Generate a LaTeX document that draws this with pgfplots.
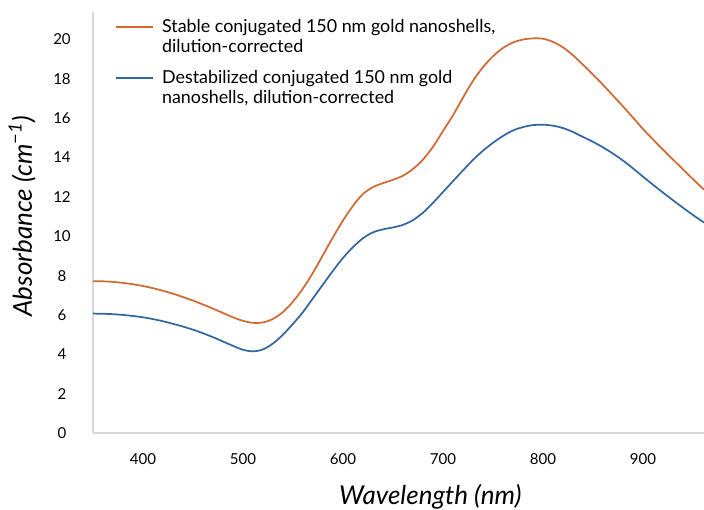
\documentclass[border=0pt]{standalone}
\usepackage{fontspec}
\setmainfont{Lato}
\usepackage{pgfplots}
\pgfplotsset{compat=1.18}
\usetikzlibrary{calc}
\definecolor{sorange}{RGB}{210,105,50}
\definecolor{dblue}{RGB}{52,102,160}
\definecolor{axgray}{RGB}{217,217,217}
\begin{document}
\begin{tikzpicture}
\begin{axis}[
  scale only axis,
  width=458.25pt, height=315.75pt,
  xmin=350, xmax=961, ymin=0, ymax=21.4,
  axis x line*=bottom, axis y line*=left,
  axis line style={axgray, line width=1.1pt, -},
  xtick={400,500,...,900}, ytick={0,2,...,20},
  major tick length=0pt,
  tick style={draw=none},
  /pgf/number format/assume math mode=true,
  /pgf/number format/1000 sep={},
  tick label style={font=\fontsize{11.3pt}{13pt}\selectfont, text=black},
  yticklabel style={anchor=center, xshift=-23.25pt},
  xticklabel style={anchor=center, yshift=-19.5pt},
  xlabel={\itshape Wavelength (nm)},
  ylabel={\itshape Absorbance (cm\textsuperscript{−1})},
  label style={font=\fontsize{19.5pt}{22pt}\selectfont},
  xlabel style={at={(axis description cs:0.552,0)}, anchor=center, yshift=-48pt},
  ylabel style={at={(axis description cs:-0.116,0.515)}, anchor=center},
  legend style={at={(axis description cs:0.036,0.979)}, anchor=north west,
    draw=none, fill=none, inner sep=0pt, row sep=3.2pt, column sep=6pt,
    font=\fontsize{13.4pt}{13.9pt}\selectfont,
    nodes={inner sep=0pt, align=left, text height=23.6pt, text depth=4.2pt}},
  legend cell align=left,
  legend image code/.code={\draw[#1, line width=1.4pt] (0pt,9.8pt) -- (27.75pt,9.8pt);
    \path (0pt,-20.65pt) (0pt,0pt);},
]
\addplot[sorange, line width=1.3pt, smooth] coordinates {
(350,7.72) (360,7.71) (370,7.68) (380,7.63) (390,7.56) (400,7.47) (410,7.36) (420,7.23)
(430,7.08) (440,6.91) (450,6.73) (460,6.53) (470,6.32) (480,6.10) (490,5.88) (500,5.70)
(510,5.60) (520,5.62) (530,5.80) (540,6.15) (550,6.68) (560,7.35) (570,8.15) (580,9.05)
(590,9.95) (600,10.80) (610,11.55) (620,12.15) (630,12.50) (640,12.70) (650,12.87)
(660,13.08) (670,13.42) (680,13.90) (690,14.55) (700,15.35) (710,16.15) (720,17.05)
(730,17.90) (740,18.60) (750,19.15) (760,19.57) (770,19.85) (780,20.00) (790,20.06)
(800,20.04) (810,19.88) (820,19.60) (830,19.20) (840,18.72) (850,18.22) (860,17.70)
(870,17.15) (880,16.60) (890,16.03) (900,15.45) (910,14.92) (920,14.40) (930,13.90)
(940,13.40) (950,12.90) (961,12.37)};
\addlegendentry{\strut Stable conjugated 150 nm gold nanoshells,\\\strut dilution-corrected}
\addplot[dblue, line width=1.3pt, smooth] coordinates {
(350,6.07) (360,6.06) (370,6.04) (380,6.00) (390,5.95) (400,5.88) (410,5.79) (420,5.68)
(430,5.55) (440,5.41) (450,5.25) (460,5.07) (470,4.87) (480,4.65) (490,4.43) (500,4.23)
(510,4.15) (520,4.25) (530,4.55) (540,5.00) (550,5.55) (560,6.15) (570,6.85) (580,7.55)
(590,8.25) (600,8.90) (610,9.45) (620,9.90) (630,10.20) (640,10.35) (650,10.45)
(660,10.58) (670,10.82) (680,11.20) (690,11.70) (700,12.25) (710,12.80) (720,13.35)
(730,13.88) (740,14.35) (750,14.75) (760,15.10) (770,15.38) (780,15.55) (790,15.65)
(800,15.67) (810,15.62) (820,15.50) (830,15.30) (840,15.05) (850,14.80) (860,14.52)
(870,14.20) (880,13.85) (890,13.45) (900,13.03) (910,12.62) (920,12.22) (930,11.83)
(940,11.45) (950,11.08) (961,10.70)};
\addlegendentry{\strut Destabilized conjugated 150 nm gold\\\strut nanoshells, dilution-corrected}
\end{axis}
\pgfresetboundingbox
\path[use as bounding box] ($(current axis.south west)+(-69.75pt,-57.75pt)$) rectangle ($(current axis.north east)+(0pt,9pt)$);
\end{tikzpicture}
\end{document}
